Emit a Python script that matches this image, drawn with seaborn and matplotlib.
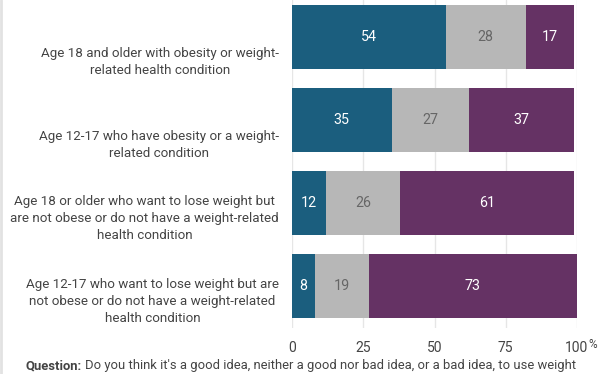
import numpy as np
import pandas as pd
import matplotlib
matplotlib.use("Agg")
import matplotlib.pyplot as plt
import seaborn as sns

# Dados
grupos = [
    "Age 18 and older with obesity or weight-\nrelated health condition",
    "Age 12-17 who have obesity or a weight-\nrelated condition",
    "Age 18 or older who want to lose weight but\nare not obese or do not have a weight-related\nhealth condition",
    "Age 12-17 who want to lose weight but are\nnot obese or do not have a weight-related\nhealth condition",
]
bom = [54, 35, 12, 8]
neutro = [28, 27, 26, 19]
ruim = [17, 37, 61, 73]
series = ["good", "neither", "bad"]
cores = ["#1b5e7e", "#b7b7b7", "#653264"]
cores_texto = ["white", "#666666", "white"]
ticks_x = [0, 25, 50, 75, 100]
pergunta = "Do you think it's a good idea, neither a good nor bad idea, or a bad idea, to use weight"

sns.set_theme(style="white")
plt.rcParams["font.family"] = ["Roboto", "DejaVu Sans"]

df = pd.DataFrame({"grupo": grupos, "good": bom, "neither": neutro, "bad": ruim})
valores = df[series].to_numpy()
acumulado = np.cumsum(valores, axis=1)

fig = plt.figure(figsize=(6.12, 3.74), dpi=100)
ax = fig.add_axes([292 / 612, 1 - 327.5 / 374, 285 / 612, 327.5 / 374])

# barras empilhadas: desenha do total para o primeiro segmento
for j in reversed(range(len(series))):
    sns.barplot(x=acumulado[:, j], y=df["grupo"], orient="h", color=cores[j],
                width=0.77, saturation=1, ax=ax, linewidth=0, order=grupos)

# rótulos dos valores
for i in range(len(grupos)):
    for j in range(len(series)):
        meio = acumulado[i, j] - valores[i, j] / 2
        ax.text(meio, i, str(valores[i, j]), ha="center", va="center",
                color=cores_texto[j], fontsize=10.3)

ax.set_xlim(0, 100)
ax.set_ylim(3.5, -0.446)
ax.set_xticks(ticks_x)
ax.set_xticklabels([str(t) for t in ticks_x], color="#444444", fontsize=10)
ax.annotate("%", xy=(100, 0), xycoords=("data", "axes fraction"),
            xytext=(16, -17.5), textcoords="offset pixels",
            ha="center", va="center", fontsize=8.5, color="#444444")
ax.tick_params(axis="x", length=0, pad=10)
ax.tick_params(axis="y", length=0)
ax.set_yticklabels([])

# rótulos das categorias (no original ficam um pouco abaixo do centro da barra)
for i, g in enumerate(grupos):
    desloc = 25 if g.count("\n") == 1 else 15.5
    ax.annotate(g, xy=(0, i), xycoords=("axes fraction", "data"),
                xytext=(-13, -desloc), textcoords="offset pixels",
                ha="right", va="center", multialignment="center",
                fontsize=9.6, color="#444444", linespacing=1.4)

ax.set_xlabel("")
ax.set_ylabel("")
ax.grid(axis="x", color="#e6e6e6", linewidth=1)
ax.set_axisbelow(True)
for s in ax.spines.values():
    s.set_visible(False)

# nota da pergunta (parte em negrito + resto)
t1 = fig.text(25 / 612, 1 - 366 / 374, "Question:", fontsize=9.4, color="#444444",
              fontweight="bold", ha="left", va="center")
fig.canvas.draw()
bb = t1.get_window_extent()
fig.text((bb.x1 + 3.5) / 612, 1 - 366 / 374, pergunta, fontsize=9.4, color="#444444",
         ha="left", va="center")

fig.add_artist(plt.Line2D([0.002, 0.002], [0, 1], color="#e2e2e2", linewidth=2,
                          transform=fig.transFigure))

fig.savefig("out.png", dpi=100)
